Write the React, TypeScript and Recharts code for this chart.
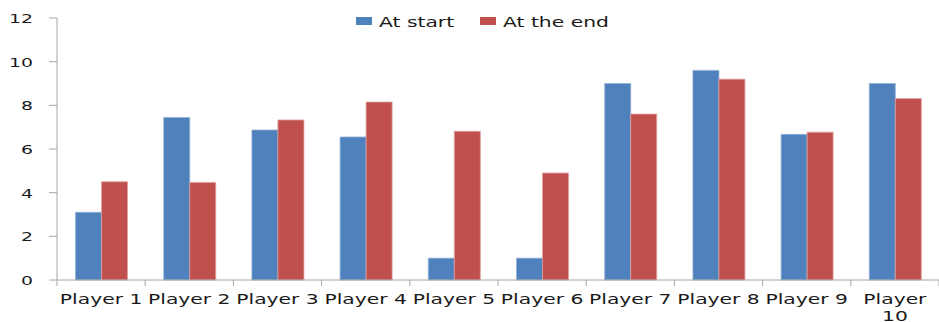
import { BarChart, Bar, XAxis, YAxis, Legend } from "recharts";

const players = [
  "Player 1",
  "Player 2",
  "Player 3",
  "Player 4",
  "Player 5",
  "Player 6",
  "Player 7",
  "Player 8",
  "Player 9",
  "Player 10",
];
const atStart = [3.1, 7.44, 6.87, 6.55, 1.0, 1.0, 9.0, 9.6, 6.67, 9.0];
const atEnd = [4.5, 4.47, 7.33, 8.15, 6.81, 4.9, 7.6, 9.2, 6.77, 8.31];
const yTicks = [0, 2, 4, 6, 8, 10, 12];

const data = players.map((name, i) => ({
  name,
  start: atStart[i],
  end: atEnd[i],
}));

const WIDTH = 939;
const HEIGHT = 322;
const PLOT_LEFT = 57;
const BAND = (WIDTH - PLOT_LEFT) / players.length;
const STRETCH = 1.45; // text is drawn wide, like the original sheet
const FONT = "'DejaVu Sans', Verdana, sans-serif";
const AXIS_GRAY = "#a6a6a6";
const TEXT = "#1a1a1a";

const BLUE = "#4f81bd";
const RED = "#c0504d";

function XTick(props: any) {
  const { x, y, payload } = props;
  const label: string = payload.value;
  // long labels don't fit the band and wrap onto two lines
  const lines = label.length > 8 ? label.split(" ") : [label];
  const left = x - BAND / 2;
  const isLast = payload.index === players.length - 1;
  return (
    <g>
      <line x1={left} x2={left} y1={y - 8} y2={y - 2} stroke={AXIS_GRAY} />
      {isLast && (
        <line x1={left + BAND} x2={left + BAND} y1={y - 8} y2={y - 2} stroke={AXIS_GRAY} />
      )}
      {lines.map((line, i) => (
        <text
          key={i}
          transform={`translate(${x},${y + 16 + i * 17}) scale(${STRETCH},1)`}
          textAnchor="middle"
          fontFamily={FONT}
          fontSize={14}
          fill={TEXT}
        >
          {line}
        </text>
      ))}
    </g>
  );
}

function YTick(props: any) {
  const { x, y, payload } = props;
  return (
    <text
      transform={`translate(${x},${y + 5}) scale(${STRETCH},1)`}
      textAnchor="end"
      fontFamily={FONT}
      fontSize={13}
      fill={TEXT}
    >
      {payload.value}
    </text>
  );
}

function LegendBox() {
  const items = [
    { label: "At start", color: BLUE, x: 0 },
    { label: "At the end", color: RED, x: 124 },
  ];
  return (
    <svg width={270} height={20} style={{ display: "block" }}>
      {items.map((it) => (
        <g key={it.label}>
          <rect x={it.x} y={4} width={16} height={8} fill={it.color} />
          <text
            transform={`translate(${it.x + 23},${14}) scale(${STRETCH},1)`}
            fontFamily={FONT}
            fontSize={14}
            fill={TEXT}
          >
            {it.label}
          </text>
        </g>
      ))}
    </svg>
  );
}

export default function App() {
  return (
    <div style={{ position: "absolute", left: 0, top: 0, background: "#fff" }}>
      <BarChart
        width={WIDTH}
        height={HEIGHT}
        data={data}
        margin={{ top: 18, right: 0, left: 0, bottom: 0 }}
        barCategoryGap="21%"
        barGap={0}
      >
        <XAxis
          dataKey="name"
          height={42}
          interval={0}
          axisLine={{ stroke: AXIS_GRAY }}
          tickLine={false}
          tickSize={6}
          tickMargin={2}
          tick={<XTick />}
        />
        <YAxis
          width={PLOT_LEFT}
          domain={[0, 12]}
          ticks={yTicks}
          interval={0}
          axisLine={{ stroke: AXIS_GRAY }}
          tickLine={{ stroke: AXIS_GRAY }}
          tickSize={8}
          tickMargin={16}
          tick={<YTick />}
        />
        {/* legend floats over the top of the plot, so it takes no room */}
        <Legend
          verticalAlign="middle"
          align="center"
          layout="horizontal"
          content={<LegendBox />}
          wrapperStyle={{ position: "absolute", top: 13, left: 356, width: 270 }}
        />
        <Bar
          dataKey="start"
          name="At start"
          fill={BLUE}
          stroke="#8fb0d8"
          strokeWidth={0.8}
          isAnimationActive={false}
        />
        <Bar
          dataKey="end"
          name="At the end"
          fill={RED}
          stroke="#e0a09e"
          strokeWidth={0.8}
          isAnimationActive={false}
        />
      </BarChart>
    </div>
  );
}
